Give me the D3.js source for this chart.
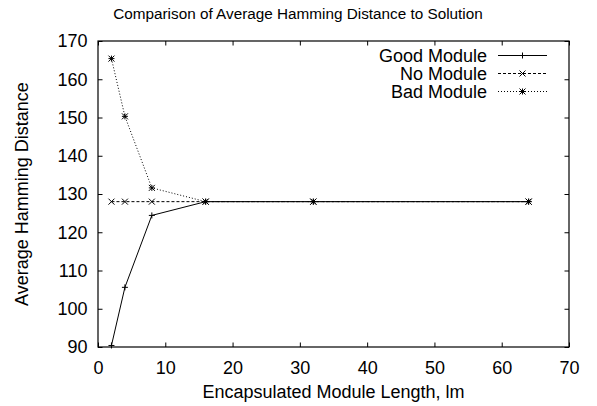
<!DOCTYPE html>
<html>
<head>
<meta charset="utf-8">
<script src="https://cdn.jsdelivr.net/npm/d3@7"></script>
<style>
  body { margin: 0; background: #fff; }
  text { font-family: "Liberation Sans", Arial, sans-serif; fill: #000; }
</style>
</head>
<body>
<svg id="chart" width="597" height="406"></svg>
<script>
const lengths = [2, 4, 8, 16, 32, 64];
const goodModule = [90.4, 105.6, 124.4, 128, 128, 128];
const noModule = [128, 128, 128, 128, 128, 128];
const badModule = [165.4, 150.3, 131.6, 128, 128, 128];
const xTicks = [0, 10, 20, 30, 40, 50, 60, 70];
const yTicks = [90, 100, 110, 120, 130, 140, 150, 160, 170];

const series = [
  { name: "Good Module", values: goodModule, dash: null, marker: "plus" },
  { name: "No Module", values: noModule, dash: "3,2", marker: "cross" },
  { name: "Bad Module", values: badModule, dash: "1,2", marker: "star" }
];

const svg = d3.select("#chart");
const margin = { top: 41, right: 28, bottom: 59, left: 98 };
const width = 597 - margin.left - margin.right;
const height = 406 - margin.top - margin.bottom;

const g = svg.append("g").attr("transform", `translate(${margin.left},${margin.top})`);

const x = d3.scaleLinear().domain([0, 70]).range([0, width]);
const y = d3.scaleLinear().domain([90, 170]).range([height, 0]);

// axes with inward ticks, mirrored on top / right
const tk = 4.5;
g.append("g").attr("transform", `translate(0,${height})`)
  .call(d3.axisBottom(x).tickValues(xTicks).tickSizeInner(-tk).tickSizeOuter(0).tickPadding(14))
  .call(a => a.select(".domain").remove());
g.append("g")
  .call(d3.axisTop(x).tickValues(xTicks).tickSizeInner(-tk).tickSizeOuter(0).tickFormat(""))
  .call(a => a.select(".domain").remove());
g.append("g")
  .call(d3.axisLeft(y).tickValues(yTicks).tickSizeInner(-tk).tickSizeOuter(0).tickPadding(10.5))
  .call(a => a.select(".domain").remove());
g.append("g").attr("transform", `translate(${width},0)`)
  .call(d3.axisRight(y).tickValues(yTicks).tickSizeInner(-tk).tickSizeOuter(0).tickFormat(""))
  .call(a => a.select(".domain").remove());

g.selectAll(".tick text").style("font-size", "18px").style("font-family", "Liberation Sans, Arial, sans-serif");
g.selectAll(".tick line").attr("stroke", "#000");

g.append("rect")
  .attr("width", width).attr("height", height)
  .attr("fill", "none").attr("stroke", "#000").attr("stroke-width", 1.2);

function marker(sel, type, s) {
  const p = [];
  if (type === "plus" || type === "star") p.push(`M${-s},0H${s}M0,${-s}V${s}`);
  if (type === "cross" || type === "star") p.push(`M${-s},${-s}L${s},${s}M${-s},${s}L${s},${-s}`);
  sel.append("path").attr("d", p.join("")).attr("stroke", "#000").attr("stroke-width", 1).attr("fill", "none");
}

const line = d3.line().x(d => x(d[0])).y(d => y(d[1]));

series.forEach(s => {
  const pts = lengths.map((l, i) => [l, s.values[i]]);
  g.append("path")
    .datum(pts)
    .attr("d", line)
    .attr("fill", "none")
    .attr("stroke", "#000")
    .attr("stroke-width", 1)
    .attr("stroke-dasharray", s.dash);
  pts.forEach(p => {
    marker(g.append("g").attr("transform", `translate(${x(p[0])},${y(p[1])})`), s.marker, 3);
  });
});

// legend
series.forEach((s, i) => {
  const ly = 14.5 + i * 18;
  const lx = 487 - margin.left;
  g.append("text")
    .attr("x", lx).attr("y", ly)
    .attr("dy", "0.35em")
    .attr("text-anchor", "end")
    .style("font-size", "18px")
    .text(s.name);
  g.append("line")
    .attr("x1", lx + 11).attr("x2", lx + 60)
    .attr("y1", ly).attr("y2", ly)
    .attr("stroke", "#000").attr("stroke-width", 1)
    .attr("stroke-dasharray", s.dash);
  marker(g.append("g").attr("transform", `translate(${lx + 35.5},${ly})`), s.marker, 3);
});

svg.append("text")
  .attr("x", 298).attr("y", 18.5)
  .attr("text-anchor", "middle")
  .style("font-size", "15.3px")
  .text("Comparison of Average Hamming Distance to Solution");

svg.append("text")
  .attr("x", margin.left + width / 2).attr("y", 398)
  .attr("text-anchor", "middle")
  .style("font-size", "18px")
  .text("Encapsulated Module Length, lm");

svg.append("text")
  .attr("transform", `translate(28,${margin.top + height / 2}) rotate(-90)`)
  .attr("text-anchor", "middle")
  .style("font-size", "18px")
  .text("Average Hamming Distance");
</script>
</body>
</html>
